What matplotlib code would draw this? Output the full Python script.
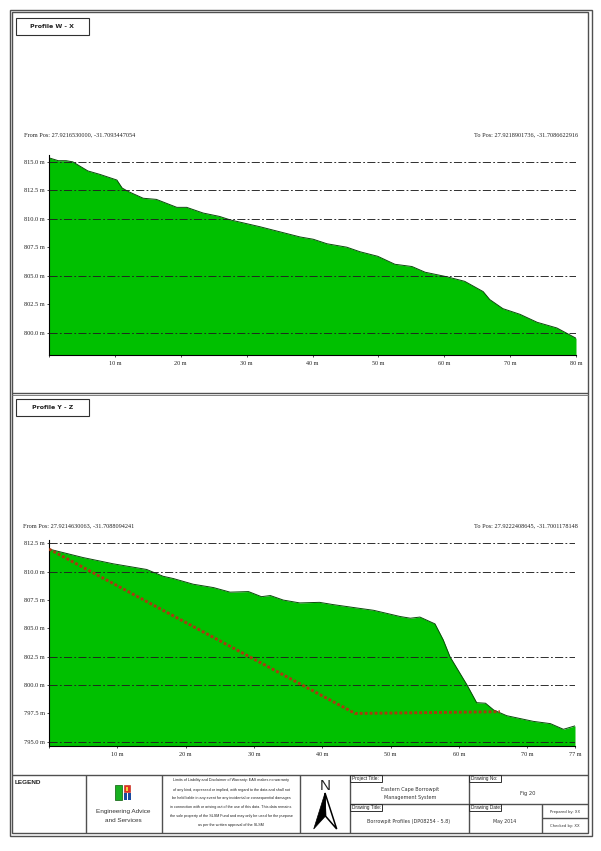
import matplotlib
matplotlib.use('Agg')
import matplotlib.pyplot as plt
from matplotlib.patches import Rectangle, Polygon

# Profile W - X
wx_dist = [0, 1.4, 2.6, 3.6, 5.9, 7.7, 10.3, 11.1, 12.0, 14.3, 16.3, 19.4, 20.9, 23.4, 25.9, 27.5,
           32.0, 38.1, 40.1, 42.2, 45.2, 47.2, 49.9, 52.5, 55.1, 57.1, 60.4, 63.1, 65.9, 66.9,
           68.9, 71.5, 74.1, 77.1, 80.0]
wx_elev = [815.35, 815.1, 815.1, 815.0, 814.2, 813.9, 813.4, 812.7, 812.4, 811.8, 811.7, 811.0, 811.0,
           810.5, 810.2, 809.9, 809.3, 808.4, 808.2, 807.8, 807.5, 807.1, 806.7, 806.0, 805.8, 805.3,
           804.9, 804.5, 803.6, 802.9, 802.1, 801.6, 800.9, 800.4, 799.5]
wx_yticks = [800, 802.5, 805, 807.5, 810, 812.5, 815]
wx_grid = [800, 805, 810, 812.5, 815]
wx_xticks = [0, 10, 20, 30, 40, 50, 60, 70, 80]

# Profile Y - Z
yz_dist = [0, 5.0, 9.4, 14.3, 16.7, 18.2, 21.1, 24.1, 26.5, 29.2, 31.1, 32.4, 34.3, 36.7, 39.6, 41.6,
           45.1, 47.5, 51.4, 52.9, 54.3, 56.5, 57.7, 58.7, 61.2, 62.6, 63.9, 65.1, 67.0, 70.9, 73.4,
           75.3, 77.0]
yz_elev = [812.0, 811.25, 810.7, 810.2, 809.6, 809.4, 808.9, 808.6, 808.2, 808.25, 807.8, 807.9, 807.5,
           807.25, 807.3, 807.1, 806.8, 806.6, 806.05, 805.9, 806.0, 805.4, 804.0, 802.5, 800.0, 798.45,
           798.4, 797.8, 797.3, 796.8, 796.6, 796.1, 796.4]
yz_yticks = [795, 797.5, 800, 802.5, 805, 807.5, 810, 812.5]
yz_grid = [795, 800, 802.5, 810, 812.5]
yz_xticks = [0, 10, 20, 30, 40, 50, 60, 70, 77]
cut_dist = [0, 44.8, 66.0]
cut_elev = [812.0, 797.5, 797.65]

W, H = 601, 851
GREEN = '#00c000'
SERIF = 'Liberation Serif'
SANS = 'Liberation Sans'
DEJA = 'DejaVu Sans'

fig = plt.figure(figsize=(W / 100, H / 100), dpi=100, facecolor='white')

# overlay in pixel coordinates for the sheet frame and title block
sheet = fig.add_axes([0, 0, 1, 1], zorder=0)
sheet.set_xlim(0, W)
sheet.set_ylim(H, 0)
sheet.axis('off')


def box(x0, y0, x1, y1, lw=0.9, color='#404040', fc='none', z=2):
    sheet.add_patch(Rectangle((x0, y0), x1 - x0, y1 - y0, fc=fc, ec=color, lw=lw, zorder=z))


def line(x0, y0, x1, y1, lw=1.0, color='#505050'):
    sheet.plot([x0, x1], [y0, y1], color=color, lw=lw, solid_capstyle='butt', zorder=2)


def label(x, y, s, size, family=DEJA, ha='center', weight='normal', color='#333333'):
    sheet.text(x, y, s, ha=ha, va='center', fontsize=size, family=family, fontweight=weight, color=color)


def profile(rect_px, dist, elev, xlim, ylim, yticks, grid, xticks):
    x0, y0, x1, y1 = rect_px
    ax = fig.add_axes([x0 / W, 1 - y1 / H, (x1 - x0) / W, (y1 - y0) / H], zorder=1)
    ax.patch.set_alpha(0)
    ax.fill_between(dist, elev, ylim[0], color=GREEN, lw=0, zorder=1)
    ax.plot(dist, elev, color='#0a4a0a', lw=0.7, zorder=2)
    for g in grid:
        ax.plot(xlim, [g, g], color='#202020', lw=0.65, ls=(0, (9, 2.5, 2, 2.5)), zorder=3)
    ax.set_xlim(xlim)
    ax.set_ylim(ylim)
    ax.spines['top'].set_visible(False)
    ax.spines['right'].set_visible(False)
    for s in ('left', 'bottom'):
        ax.spines[s].set_linewidth(0.8)
    ax.set_yticks(yticks)
    ax.set_yticklabels(['%.1f m' % v for v in yticks], fontfamily=SERIF, fontsize=4.6, color='#222222')
    ax.set_xticks(xticks)
    ax.set_xticklabels([''] + ['%d m' % v for v in xticks[1:]], fontfamily=SERIF, fontsize=4.4, color='#222222')
    ax.tick_params(axis='both', length=1.5, width=0.5, pad=1.5)
    ax.tick_params(axis='x', pad=2.5)
    return ax


ax1 = profile((49, 155, 576, 355.3), wx_dist, wx_elev, (0, 80), (798.0, 815.6), wx_yticks, wx_grid, wx_xticks)
ax2 = profile((49, 540, 575, 746.3), yz_dist, yz_elev, (0, 77), (794.6, 812.8), yz_yticks, yz_grid, yz_xticks)
ax2.plot(cut_dist, cut_elev, color='#a83a10', lw=2.1, ls=(0, (1, 0.7)), zorder=4)

# sheet frame
box(9.5, 9.5, 591.5, 835.5, lw=1.0, color='#505050')
box(12, 12, 587.5, 833, lw=1.0, color='#505050')
line(12, 392.5, 587.5, 392.5, lw=1.0)
line(12, 394.8, 587.5, 394.8, lw=0.7, color='#808080')
line(12, 775, 587.5, 775, lw=1.0)

# profile title boxes
box(16, 17.5, 89, 35, lw=0.8, color='#303030')
label(52.5, 26.5, 'Profile W - X', 4.5, weight='bold', color='#222222')
box(16, 399, 89, 416.3, lw=0.8, color='#303030')
label(52.5, 407.5, 'Profile Y - Z', 4.5, weight='bold', color='#222222')

# start and end positions
label(24, 135, 'From Pos: 27.9216530000, -31.7093447054', 4.5, SERIF, 'left', color='#222222')
label(578, 135, 'To Pos: 27.9218901736, -31.7086622916', 4.5, SERIF, 'right', color='#222222')
label(23, 525.7, 'From Pos: 27.9214630063, -31.7088094241', 4.5, SERIF, 'left', color='#222222')
label(578, 525.5, 'To Pos: 27.9222408645, -31.7001178148', 4.5, SERIF, 'right', color='#222222')

# title block dividers
for x in (86, 162, 300.3, 350, 469.3):
    line(x, 775, x, 833)
line(542, 804, 542, 833)
line(350, 804, 587.5, 804)
line(542, 818.3, 587.5, 818.3)

label(15, 783, 'LEGEND', 4.6, SANS, 'left', 'bold', '#222222')

# logo
box(115, 785, 121.7, 800, lw=0.5, color='#0a5a0a', fc='#18b020')
box(124, 785, 130, 792, lw=0.4, color='#c02010', fc='#e03020')
box(125.8, 786.5, 128.2, 790.5, lw=0, color='none', fc='#f0d040', z=3)
box(124, 793, 131, 800, lw=0, color='none', fc='#1a4aa0')
box(126.5, 793, 128, 800, lw=0, color='none', fc='white', z=3)
label(123, 812, 'Engineering Advice', 4.6, SANS)
label(123, 820.5, 'and Services', 4.6, SANS)

disclaimer = [
    'Limits of Liability and Disclaimer of Warranty: EAS makes no warranty',
    'of any kind, expressed or implied, with regard to the data and shall not',
    'be held liable in any event for any incidental or consequential damages',
    'in connection with or arising out of the use of this data. This data remains',
    'the sole property of the SLSM Fund and may only be used for the purpose',
    'as per the written approval of the SLSM',
]
for y, t in zip([780.3, 789.5, 798.3, 807.3, 815.8, 825], disclaimer):
    label(231, y, t, 2.7, SANS, color='#222222')

# north arrow
sheet.text(325, 790, 'N', ha='center', va='baseline', fontsize=11, family=SANS, color='#222222')
sheet.add_patch(Polygon([(325, 793), (336.7, 829), (325, 815.5)], fc='white', ec='black', lw=1.1, zorder=3))
sheet.add_patch(Polygon([(325, 793), (313.7, 829), (326, 815.5)], fc='black', ec='black', lw=0.5, zorder=3))

# labelled cells
box(350, 775, 381.7, 782, lw=0.7, color='#303030')
label(352, 778.7, 'Project Title:', 3.4, SANS, 'left', color='#222222')
box(350, 804, 381.7, 811, lw=0.7, color='#303030')
label(352, 807.7, 'Drawing Title:', 3.4, SANS, 'left', color='#222222')
box(469.3, 775, 500.7, 782, lw=0.7, color='#303030')
label(471, 778.7, 'Drawing No:', 3.4, SANS, 'left', color='#222222')
box(469.3, 804, 500.7, 811, lw=0.7, color='#303030')
label(471, 807.7, 'Drawing Date:', 3.4, SANS, 'left', color='#222222')

label(410, 790, 'Eastern Cape Borrowpit', 3.5)
label(410, 798, 'Management System', 3.5)
label(409, 821, 'Borrowpit Profiles (DP08254 - 5.8)', 3.5)
label(528, 793, 'Fig 20', 3.7)
label(505, 821, 'May 2014', 3.4)
label(565, 811.5, 'Prepared by: XX', 2.7)
label(565, 826, 'Checked by: XX', 2.7)

fig.savefig('out.png', dpi=100)
